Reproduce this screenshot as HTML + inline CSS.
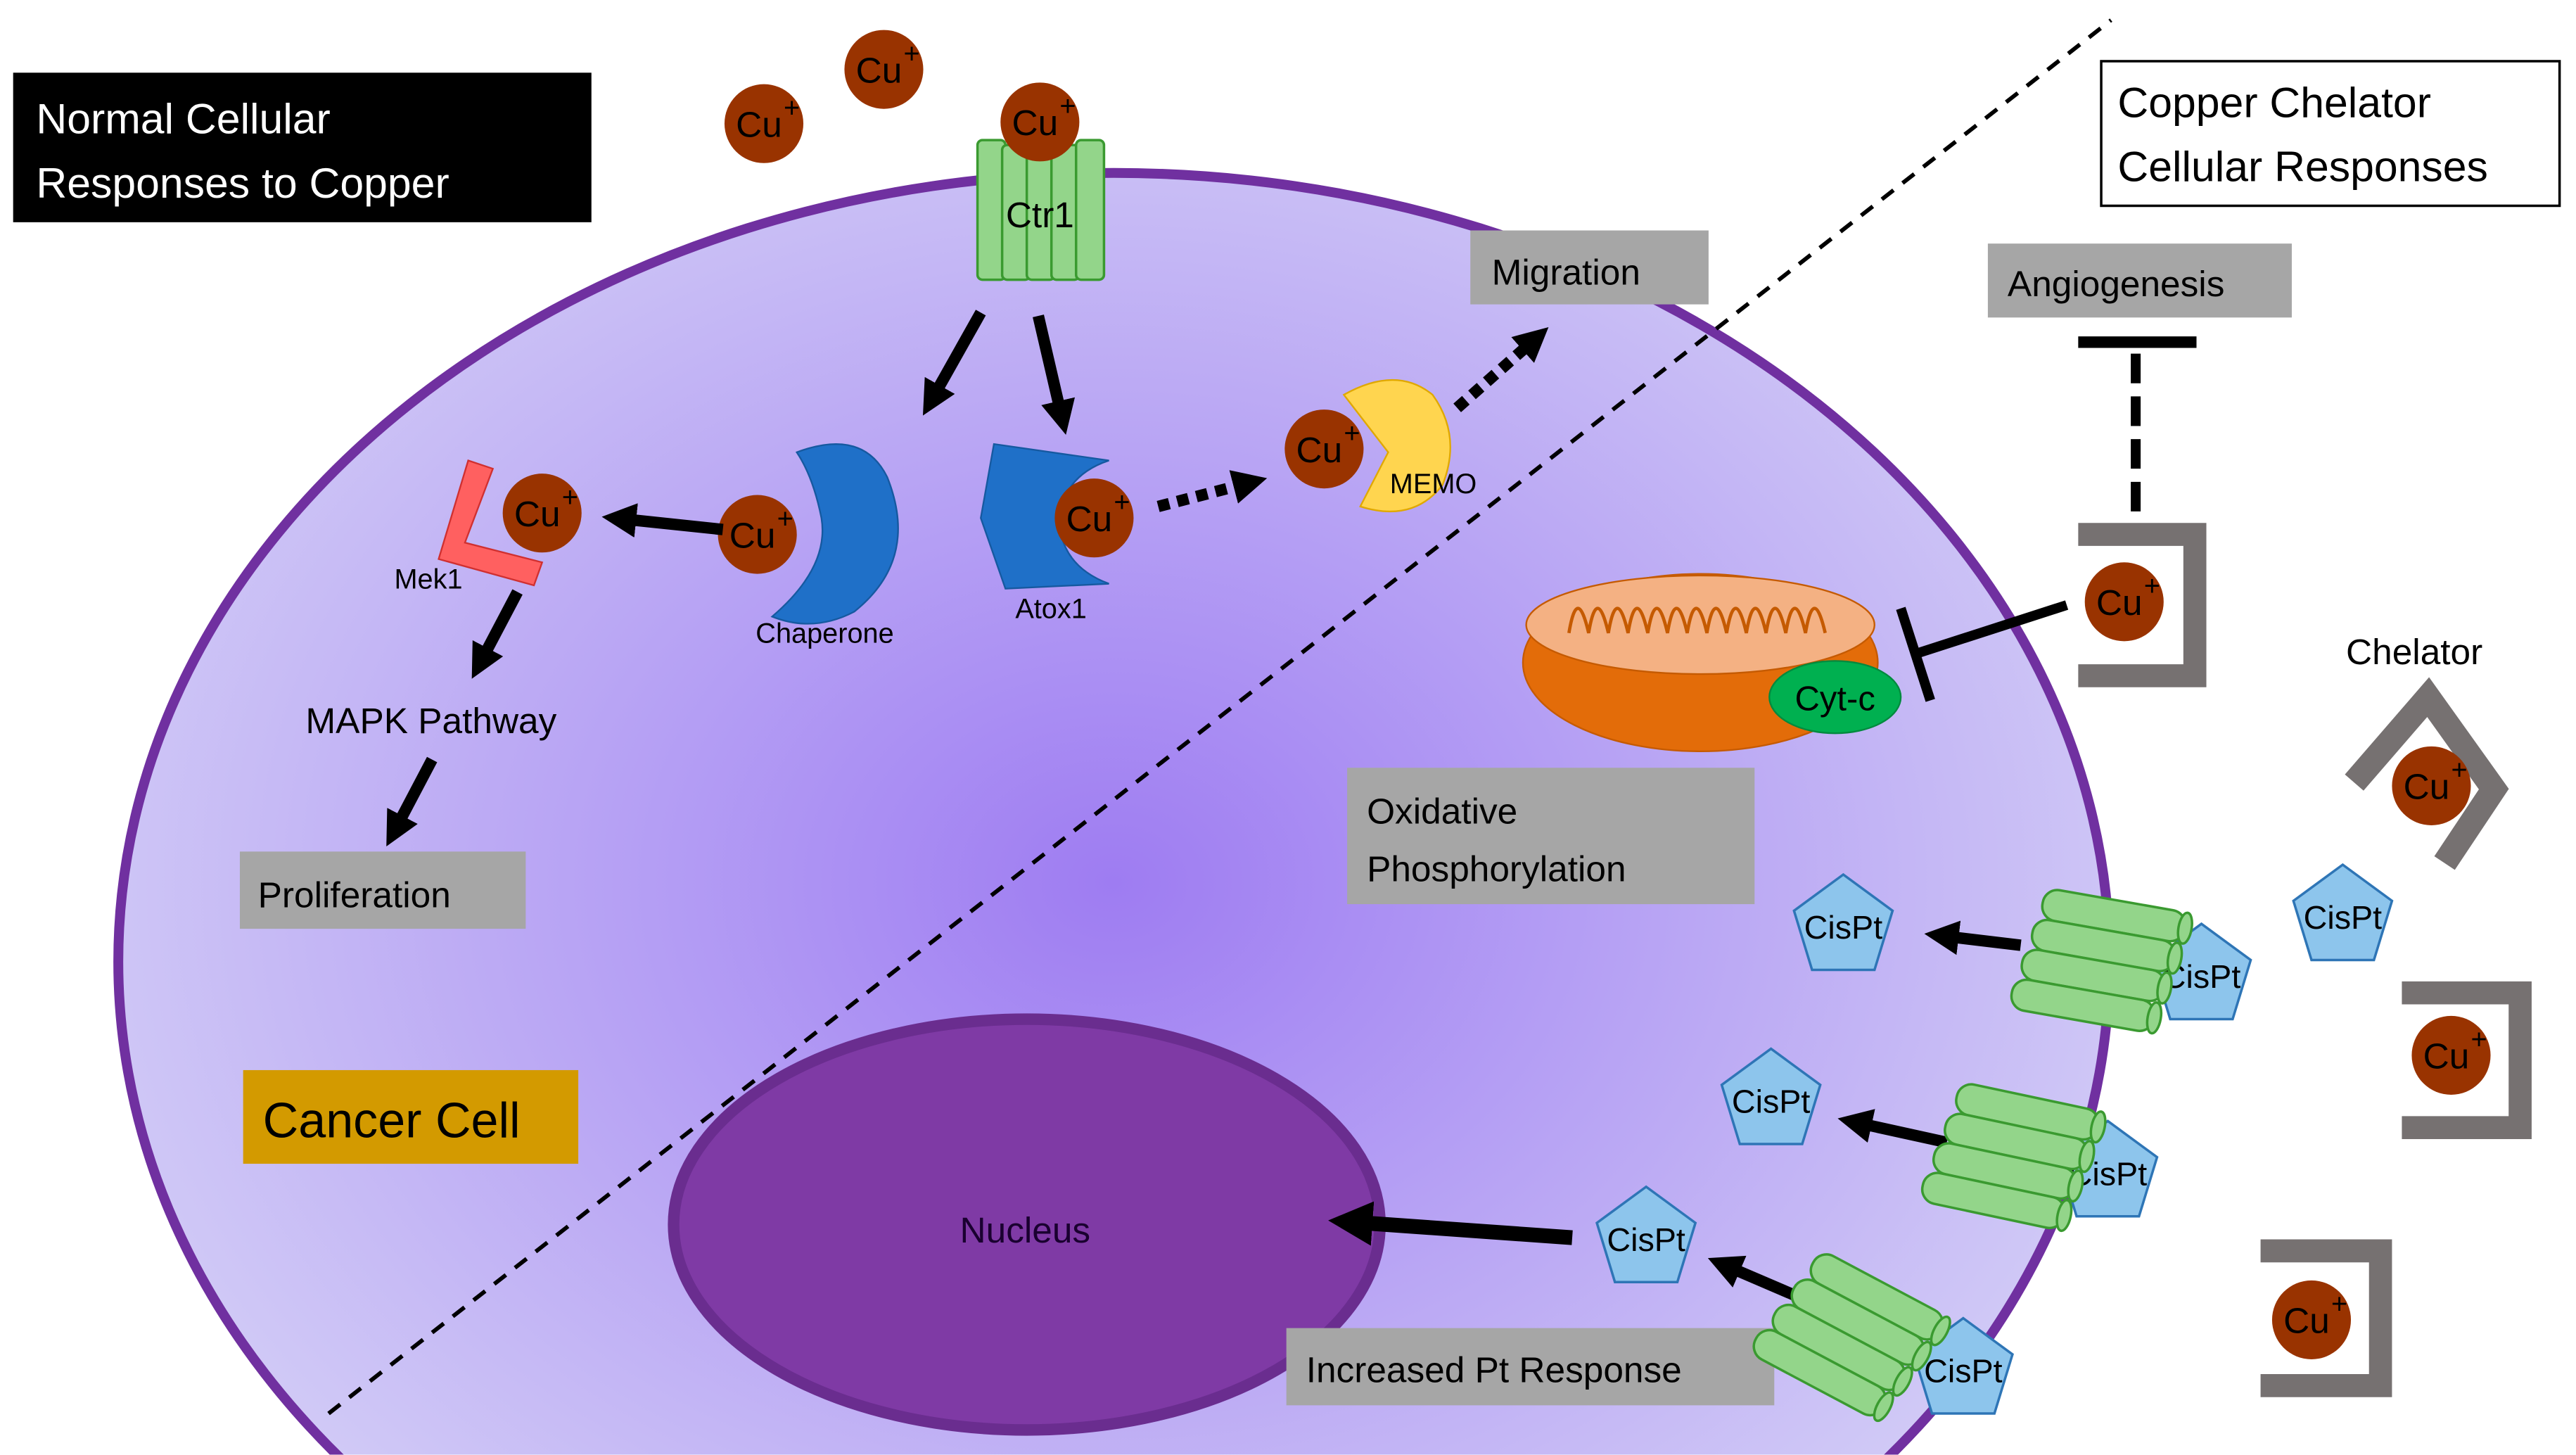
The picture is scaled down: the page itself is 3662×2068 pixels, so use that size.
<!DOCTYPE html>
<html><head><meta charset="utf-8"><style>html,body{margin:0;padding:0;background:#fff;width:3662px;height:2068px;overflow:hidden}svg{display:block}text{font-family:"Liberation Sans",sans-serif}</style></head>
<body>
<svg width="3662" height="2068" viewBox="0 0 1568 885" xmlns="http://www.w3.org/2000/svg" overflow="hidden">
<defs>
<clipPath id="frame"><rect x="0" y="0" width="1568" height="885"/></clipPath>
<radialGradient id="cg" cx="0.5" cy="0.45" r="0.55">
<stop offset="0" stop-color="#9e7cf2"/><stop offset="1" stop-color="#d2ccf6"/></radialGradient>
<marker id="ah" viewBox="0 0 10 10" refX="2" refY="5" markerWidth="3" markerHeight="3" orient="auto"><path d="M0,0 L10,5 L0,10 z" fill="#000"/></marker>
<g id="ch">
<g fill="#93d58a" stroke="#3a9a30" stroke-width="1.5">
<rect x="0" y="0" width="88" height="19" rx="9"/><ellipse cx="88" cy="9.5" rx="4" ry="9.5"/>
<rect x="-3" y="19" width="88" height="19" rx="9"/><ellipse cx="85" cy="28.5" rx="4" ry="9.5"/>
<rect x="-6" y="38" width="88" height="19" rx="9"/><ellipse cx="82" cy="47.5" rx="4" ry="9.5"/>
<rect x="-9" y="57" width="88" height="19" rx="9"/><ellipse cx="79" cy="66.5" rx="4" ry="9.5"/>
</g></g>
<g id="pt"><polygon points="0,-32 30,-10 19,26 -19,26 -30,-10" fill="#8dc5ec" stroke="#2e75b6" stroke-width="1.5"/><text x="0" y="7" text-anchor="middle" font-size="20">CisPt</text></g>
<g id="cu"><circle r="24" fill="#993300"/><text x="-3" y="8" text-anchor="middle" font-size="22">Cu</text><text x="12" y="-4" font-size="17">+</text></g>
</defs>
<g clip-path="url(#frame)">
<ellipse cx="678" cy="585" rx="606" ry="480" fill="url(#cg)" stroke="#7030a0" stroke-width="6"/>
<ellipse cx="625" cy="745" rx="215" ry="125" fill="#7f3aa5" stroke="#6a2d8f" stroke-width="7"/>
<text x="624" y="756" text-anchor="middle" font-size="22" fill="#1a0030">Nucleus</text>
<line x1="200" y1="860" x2="1285" y2="12" stroke="#000" stroke-width="2.5" stroke-dasharray="9,7"/>
<rect x="8" y="44" width="352" height="91" fill="#000"/>
<text x="22" y="81" font-size="26" fill="#fff">Normal Cellular</text><text x="22" y="120" font-size="26" fill="#fff">Responses to Copper</text>
<rect x="1279" y="37" width="279" height="88" fill="#fff" stroke="#000" stroke-width="1.5"/>
<text x="1289" y="71" font-size="26">Copper Chelator</text><text x="1289" y="110" font-size="26">Cellular Responses</text>
<g fill="#a6a6a6"><rect x="895" y="140" width="145" height="45"/><rect x="1210" y="148" width="185" height="45"/><rect x="820" y="467" width="248" height="83"/><rect x="146" y="518" width="174" height="47"/><rect x="783" y="808" width="297" height="47"/></g>
<text x="908" y="173" font-size="22">Migration</text><text x="1222" y="180" font-size="22">Angiogenesis</text>
<text x="832" y="501" font-size="22">Oxidative</text><text x="832" y="536" font-size="22">Phosphorylation</text>
<text x="157" y="552" font-size="22">Proliferation</text><text x="795" y="841" font-size="22">Increased Pt Response</text>
<rect x="148" y="651" width="204" height="57" fill="#d39a00"/><text x="160" y="692" font-size="30">Cancer Cell</text>
<text x="186" y="446" font-size="22">MAPK  Pathway</text>
<g fill="#93d58a" stroke="#3a9a30" stroke-width="1.5">
<rect x="595" y="85" width="17" height="85" rx="3"/><rect x="610" y="88" width="17" height="82" rx="3"/><rect x="625" y="88" width="17" height="82" rx="3"/><rect x="640" y="88" width="17" height="82" rx="3"/><rect x="655" y="85" width="17" height="85" rx="3"/></g>
<use href="#cu" x="465" y="75"/><use href="#cu" x="538" y="42"/><use href="#cu" x="633" y="74"/>
<text x="633" y="138" text-anchor="middle" font-size="22">Ctr1</text>
<polygon points="285,280 300,285 283,330 330,342 325,356 267,340" fill="#ff6060" stroke="#d03030"/>
<use href="#cu" x="330" y="312"/><text x="240" y="358" font-size="17">Mek1</text>
<path d="M485,275 Q525,260 540,290 Q560,340 520,372 Q495,385 470,375 Q505,345 500,315 Q495,290 485,275 z" fill="#1f70c8" stroke="#1659a0"/>
<use href="#cu" x="461" y="325"/><text x="460" y="391" font-size="17">Chaperone</text>
<path d="M605,270 L675,280 Q645,290 645,320 Q648,345 675,355 L612,358 L597,315 z" fill="#1f70c8" stroke="#1659a0"/>
<use href="#cu" x="666" y="315"/><text x="618" y="376" font-size="17">Atox1</text>
<path d="M818,240 Q850,222 872,240 Q890,265 878,295 Q860,318 828,308 L845,275 z" fill="#ffd54f" stroke="#e0a800"/>
<use href="#cu" x="806" y="273"/><text x="846" y="300" font-size="17">MEMO</text>
<g stroke="#000" stroke-width="7" marker-end="url(#ah)">
<line x1="597" y1="190" x2="570" y2="238"/><line x1="632" y1="192" x2="645" y2="248"/>
<line x1="440" y1="322" x2="383" y2="316"/><line x1="315" y1="360" x2="295" y2="398"/>
<line x1="263" y1="462" x2="243" y2="500"/>
<line x1="1230" y1="575" x2="1188" y2="570"/><line x1="1185" y1="695" x2="1135" y2="684"/><line x1="1097" y1="790" x2="1055" y2="772"/>
<line x1="957" y1="753" x2="830" y2="744" stroke-width="9"/>
<line x1="705" y1="308" x2="755" y2="295" stroke-dasharray="7,5"/><line x1="887" y1="248" x2="930" y2="210" stroke-dasharray="7,5"/>
</g>
<line x1="1258" y1="368" x2="1165" y2="398" stroke="#000" stroke-width="6"/><line x1="1157" y1="370" x2="1175" y2="426" stroke="#000" stroke-width="6"/>
<line x1="1300" y1="215" x2="1300" y2="318" stroke="#000" stroke-width="6" stroke-dasharray="18,8"/><line x1="1265" y1="208" x2="1337" y2="208" stroke="#000" stroke-width="7"/>
<ellipse cx="1035" cy="403" rx="108" ry="54" fill="#e36c09" stroke="#c55a00"/>
<ellipse cx="1035" cy="380" rx="106" ry="30" fill="#f4b183" stroke="#c55a00"/>
<path d="M955,385 q5,-30 12,0 q5,-30 12,0 q5,-30 12,0 q5,-30 12,0 q5,-30 12,0 q5,-30 12,0 q5,-30 12,0 q5,-30 12,0 q5,-30 12,0 q5,-30 12,0 q5,-30 12,0 q5,-30 12,0 q5,-30 12,0" fill="none" stroke="#c55a00" stroke-width="2"/>
<ellipse cx="1117" cy="424" rx="40" ry="22" fill="#00b050" stroke="#008a3e"/><text x="1117" y="432" text-anchor="middle" font-size="21">Cyt-c</text>
<g fill="#767171">
<path d="M1265,318 H1343 V418 H1265 V404 H1329 V332 H1265 z"/>
<path d="M1462,597 H1541 V693 H1462 V679 H1527 V611 H1462 z"/>
<path d="M1376,754 H1456 V850 H1376 V836 H1442 V768 H1376 z"/></g>
<polyline points="1433,476 1478,424 1518,480 1488,525" fill="none" stroke="#767171" stroke-width="15"/>
<text x="1428" y="404" font-size="22">Chelator</text>
<use href="#cu" x="1293" y="366"/><use href="#cu" x="1480" y="478"/><use href="#cu" x="1492" y="642"/><use href="#cu" x="1407" y="803"/>
<use href="#pt" x="1122" y="564"/><use href="#pt" x="1078" y="670"/><use href="#pt" x="1002" y="754"/><use href="#pt" x="1426" y="558"/>
<use href="#pt" x="1340" y="594"/><use href="#pt" x="1283" y="714"/><use href="#pt" x="1195" y="834"/>
<use href="#ch" transform="translate(1245,540) rotate(10)"/>
<use href="#ch" transform="translate(1193,658) rotate(12)"/>
<use href="#ch" transform="translate(1108,760) rotate(28)"/>
</g>
</svg>
</body></html>
